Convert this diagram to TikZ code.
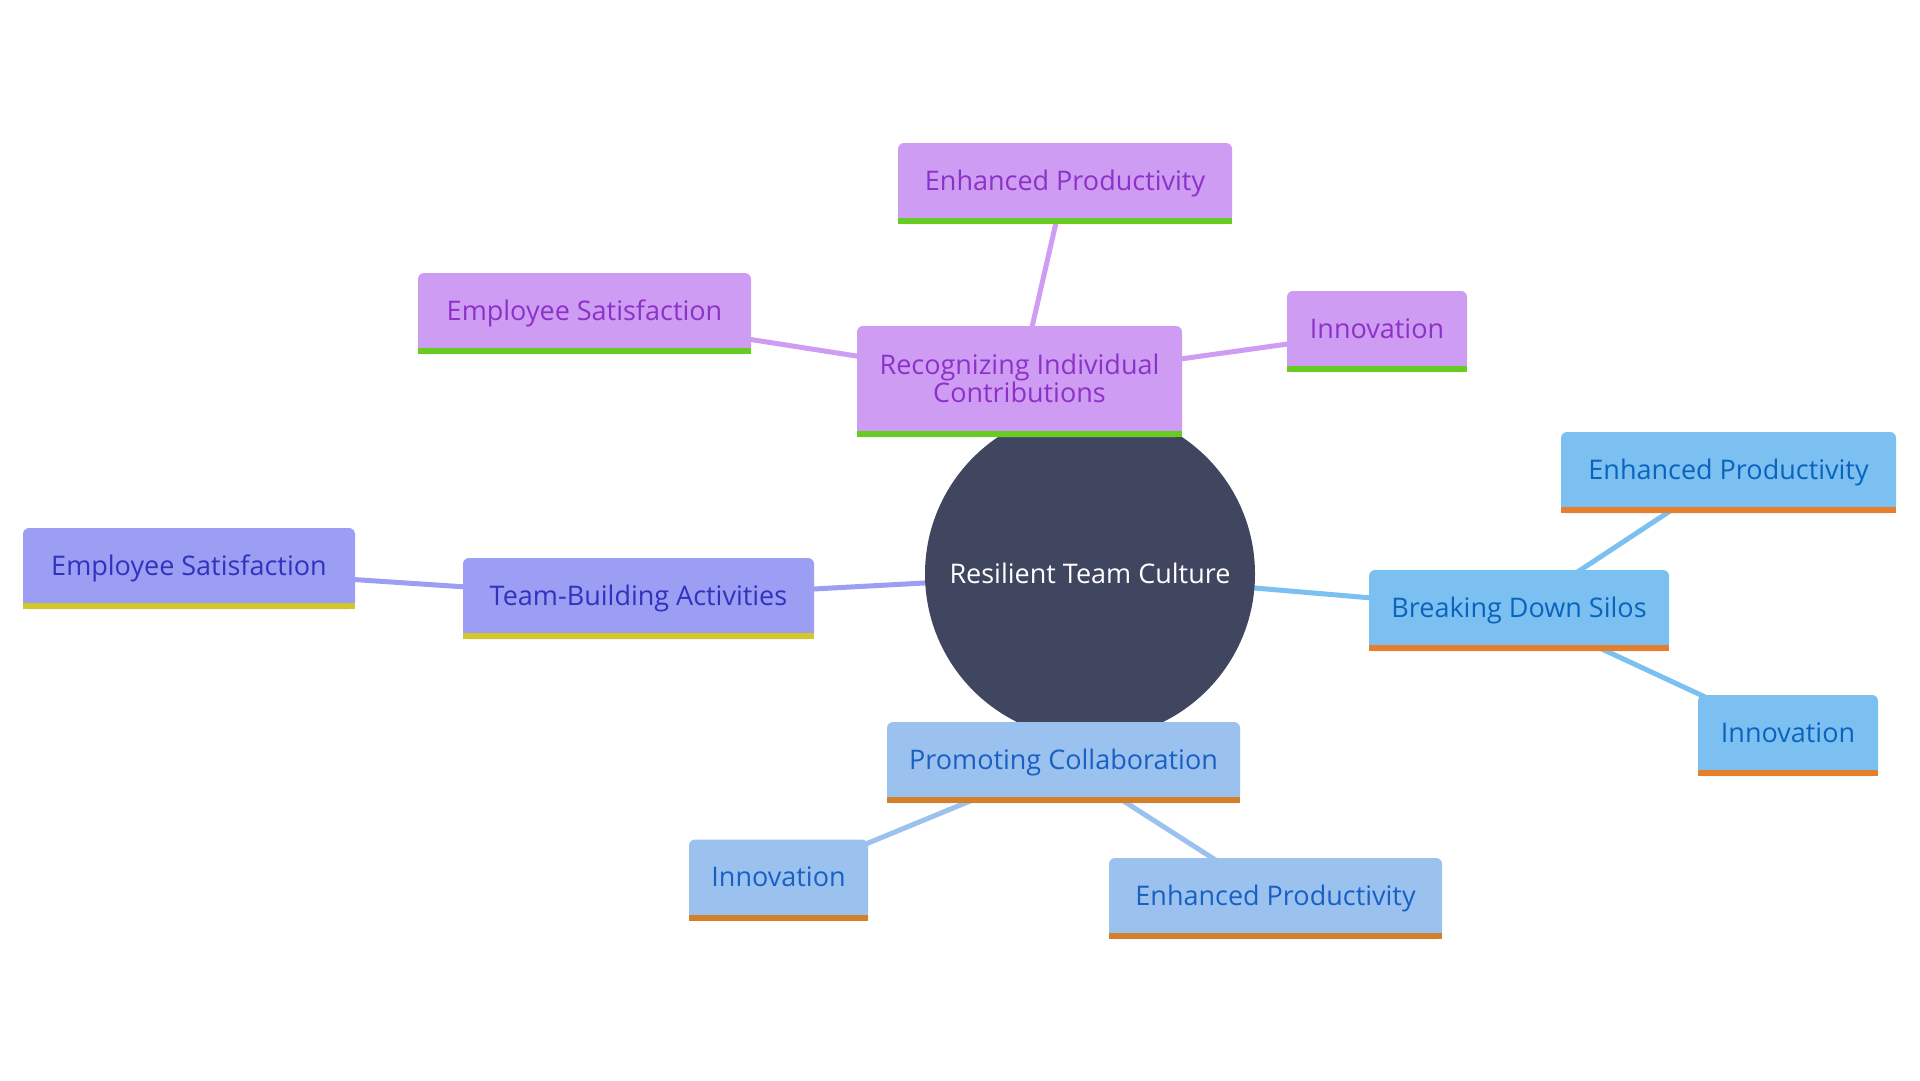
\documentclass[tikz,border=0pt]{standalone}
\usepackage{fontspec}
\setmainfont{Open Sans}
\pgfdeclarelayer{bg}
\pgfsetlayers{bg,main}
\definecolor{corec}{RGB}{65,70,96}
\definecolor{pfill}{RGB}{206,156,242}
\definecolor{ptext}{RGB}{140,50,200}
\definecolor{pbar}{RGB}{102,204,34}
\definecolor{bfill}{RGB}{123,192,240}
\definecolor{btext}{RGB}{10,100,190}
\definecolor{bbar}{RGB}{230,126,44}
\definecolor{cfill}{RGB}{155,194,238}
\definecolor{ctext}{RGB}{24,96,196}
\definecolor{cbar}{RGB}{212,128,40}
\definecolor{tfill}{RGB}{155,158,242}
\definecolor{ttext}{RGB}{50,50,190}
\definecolor{tbar}{RGB}{212,200,40}
\tikzset{
  x=1pt, y=-1pt,
  mmtext/.style={font=\fontsize{27}{28}\selectfont},
  mmbox/.style={mmtext, rounded corners=6pt, inner sep=0pt, text height=20pt, text depth=6.6pt, minimum height=81pt},
  pbox/.style={mmbox, fill=pfill, text=ptext},
  bbox/.style={mmbox, fill=bfill, text=btext},
  cbox/.style={mmbox, fill=cfill, text=ctext},
  tbox/.style={mmbox, fill=tfill, text=ttext},
  edge/.style={draw=#1, line width=5pt},
}
\begin{document}
\begin{tikzpicture}
\useasboundingbox (0,0) rectangle (1920,1080);
% centre
\node[circle, fill=corec, minimum size=330pt, inner sep=0pt, text=white, mmtext, text height=19.3pt, text depth=0pt] (core) at (1090,574) {Resilient Team Culture};
% purple branch
\node[pbox, minimum height=111pt, minimum width=325pt, text height=21pt, text depth=35pt] (rec) at (1019.5,381.5)
  {\vtop{\hsize=320pt\parindent=0pt\centering Recognizing Individual\par Contributions\par}};
\node[pbox, minimum width=334pt] (pep) at (1065,183.5) {Enhanced Productivity};
\node[pbox, minimum width=333pt] (pes) at (584.5,313.5) {Employee Satisfaction};
\node[pbox, minimum width=180pt] (pin) at (1377,331.5) {Innovation};
% blue branch
\node[bbox, minimum width=300pt] (bds) at (1519,610.5) {Breaking Down Silos};
\node[bbox, minimum width=335pt] (bep) at (1728.5,472.5) {Enhanced Productivity};
\node[bbox, minimum width=180pt] (bin) at (1788,735.5) {Innovation};
% collaboration branch
\node[cbox, minimum width=353pt] (pc) at (1063.5,762.5) {Promoting Collaboration};
\node[cbox, minimum width=179pt] (cin) at (778.5,880) {Innovation};
\node[cbox, minimum width=333pt] (cep) at (1275.5,898.5) {Enhanced Productivity};
% team-building branch
\node[tbox, minimum width=351pt] (tb) at (638.5,598.5) {Team-Building Activities};
\node[tbox, minimum width=332pt] (tes) at (189,568.5) {Employee Satisfaction};
% bottom bars
\foreach \n/\c in {rec/pbar,pep/pbar,pes/pbar,pin/pbar,bds/bbar,bep/bbar,bin/bbar,pc/cbar,cin/cbar,cep/cbar,tb/tbar,tes/tbar}
  \fill[\c] (\n.south west) rectangle ([yshift=6pt]\n.south east);
% connectors
\begin{pgfonlayer}{bg}
\draw[edge=pfill] (core.center) -- (rec.center);
\draw[edge=pfill] (rec.center) -- (pep.center);
\draw[edge=pfill] (rec.center) -- (pes.center);
\draw[edge=pfill] (rec.center) -- (pin.center);
\draw[edge=bfill] (core.center) -- (bds.center);
\draw[edge=bfill] (bds.center) -- (bep.center);
\draw[edge=bfill] (bds.center) -- (bin.center);
\draw[edge=cfill] (core.center) -- (pc.center);
\draw[edge=cfill] (pc.center) -- (cin.center);
\draw[edge=cfill] (pc.center) -- (cep.center);
\draw[edge=tfill] (core.center) -- (tb.center);
\draw[edge=tfill] (tb.center) -- (tes.center);
\end{pgfonlayer}
\end{tikzpicture}
\end{document}
